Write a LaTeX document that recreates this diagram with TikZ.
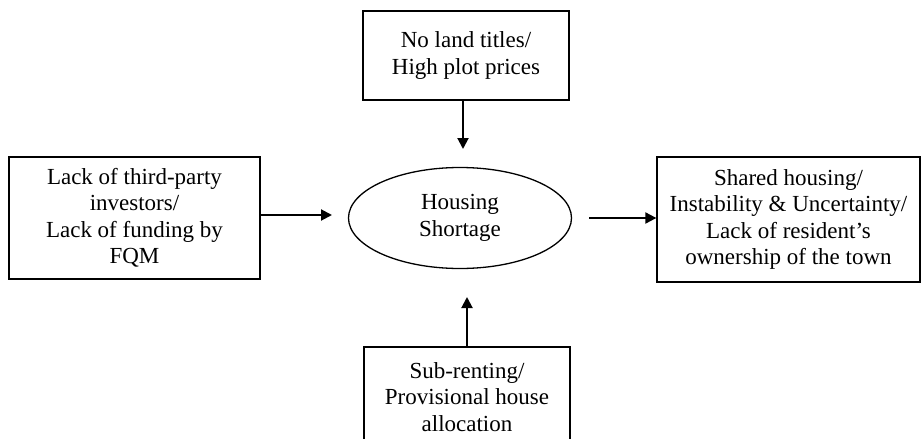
\documentclass[tikz,border=0pt]{standalone}
\usepackage{fontspec}
\setmainfont{Liberation Serif}
\usetikzlibrary{shapes.geometric,arrows.meta}
\begin{document}
\begin{tikzpicture}[x=1pt,y=-1pt,
  box/.style={draw,line width=1.3pt,rectangle,align=center,inner sep=0pt,
    font=\fontsize{23}{26.5}\selectfont},
  oval/.style={draw,line width=1.3pt,ellipse,align=center,inner sep=0pt,
    font=\fontsize{23}{26.5}\selectfont},
  arr/.style={line width=2pt,-{Triangle[length=11pt,width=11pt]}}]
\useasboundingbox (0,0) rectangle (921,439);
\node[box,minimum width=206pt,minimum height=89pt] (top) at (466,55.5) {No land titles/\\High plot prices};
\node[box,minimum width=251pt,minimum height=122pt] (left) at (134.5,218) {Lack of third-party\\investors/\\Lack of funding by\\FQM};
\node[oval,minimum width=223pt,minimum height=101pt] (mid) at (460,218) {Housing\\Shortage};
\node[box,minimum width=263pt,minimum height=125pt] (right) at (788.5,219.5) {Shared housing/\\Instability \& Uncertainty/\\Lack of resident’s\\ownership of the town};
\node[box,minimum width=206pt,minimum height=100pt] (bot) at (467,397) {Sub-renting/\\Provisional house\\allocation};
\coordinate (ttip) at (463,149);
\coordinate (ltip) at (332,215);
\coordinate (rstart) at (589,218);
\coordinate (btip) at (467,297);
\draw[arr] (top.south -| ttip) -- (ttip);
\draw[arr] (left.east |- ltip) -- (ltip);
\draw[arr] (rstart) -- (right.west |- rstart);
\draw[arr] (bot.north -| btip) -- (btip);
\end{tikzpicture}
\end{document}
